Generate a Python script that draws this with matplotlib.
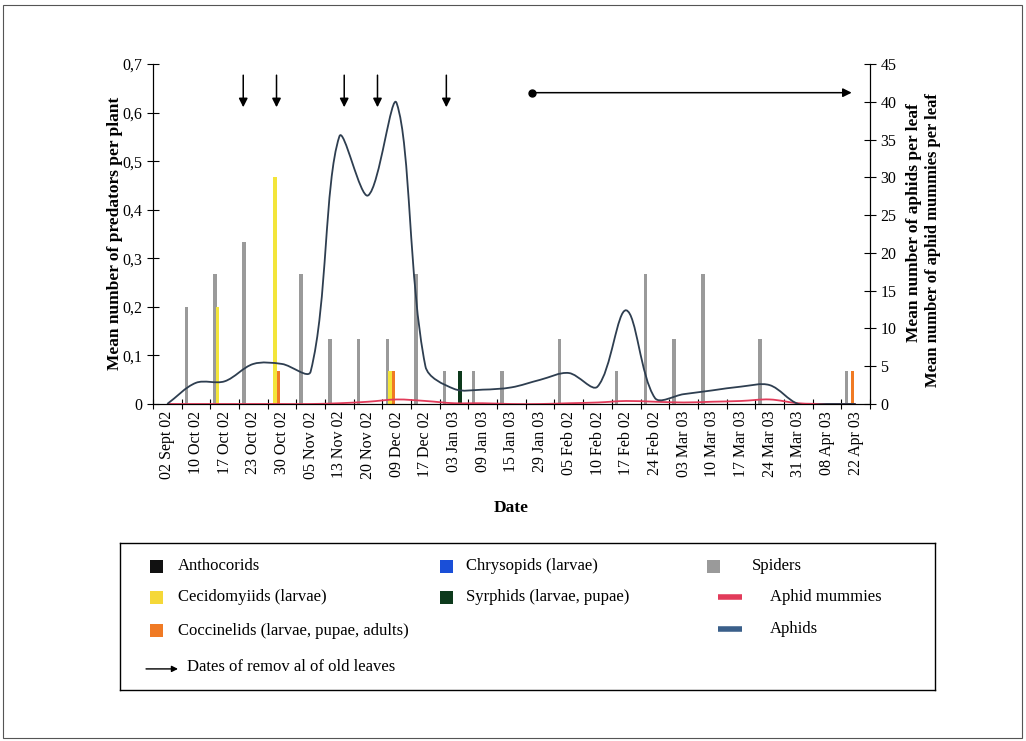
import numpy as np
import matplotlib
matplotlib.use("Agg")
import matplotlib.pyplot as plt
from matplotlib.path import Path
from matplotlib.patches import PathPatch, Rectangle

plt.rcParams['font.family'] = ['Liberation Serif', 'DejaVu Serif']

# sampling dates (categories)
dates = ['02 Sept 02', '10 Oct 02', '17 Oct 02', '23 Oct 02', '30 Oct 02',
         '05 Nov 02', '13 Nov 02', '20 Nov 02', '09 Dec 02', '17 Dec 02',
         '03 Jan 03', '09 Jan 03', '15 Jan 03', '29 Jan 03', '05 Feb 02',
         '10 Feb 02', '17 Feb 02', '24 Feb 02', '03 Mar 03', '10 Mar 03',
         '17 Mar 03', '24 Mar 03', '31 Mar 03', '08 Apr 03', '22 Apr 03']

# predators per plant (left axis)
spiders = [0, 0.2, 0.267, 0.333, 0, 0.267, 0.133, 0.133, 0.133, 0.267,
           0.067, 0.067, 0.067, 0, 0.133, 0, 0.067, 0.267, 0.133, 0.267,
           0, 0.133, 0, 0, 0.067]
cecidomyiids = [0, 0, 0.2, 0, 0.467, 0, 0, 0, 0.067, 0,
                0, 0, 0, 0, 0, 0, 0, 0, 0, 0,
                0, 0, 0, 0, 0]
coccinelids = [0, 0, 0, 0, 0.067, 0, 0, 0, 0.067, 0,
               0, 0, 0, 0, 0, 0, 0, 0, 0, 0,
               0, 0, 0, 0, 0.067]
anthocorids = [0] * 25
chrysopids = [0] * 25
syrphids = [0, 0, 0, 0, 0, 0, 0, 0, 0, 0,
            0.067, 0, 0, 0, 0, 0, 0, 0, 0, 0,
            0, 0, 0, 0, 0]

# per leaf (right axis)
aphids = [0, 2.8, 3.0, 5.3, 5.3, 4.3, 35.4, 27.6, 39.8, 5.0,
          2.0, 1.9, 2.2, 3.2, 4.1, 2.3, 12.4, 0.8, 1.3, 1.8,
          2.3, 2.5, 0, 0, 0]
mummies = [0, 0, 0, 0, 0, 0, 0.1, 0.3, 0.6, 0.4,
           0.1, 0.1, 0, 0, 0.1, 0.2, 0.4, 0.3, 0.2, 0.3,
           0.4, 0.6, 0.1, 0, 0]

# dates of removal of old leaves (x positions on category axis)
removals = [2.65, 3.81, 6.17, 7.33, 9.73]


def smooth_path(x, y, sx=28.7, sy=7.56):
    # smoothed line, Bezier handles scaled by neighbouring segment lengths
    pts = np.column_stack([x, y]).astype(float)
    n = len(pts)
    scale = np.array([sx, sy])

    def seglen(a, b):
        return np.hypot(*((pts[b] - pts[a]) * scale))

    verts = [pts[0]]
    codes = [Path.MOVETO]
    for i in range(n - 1):
        p1, p2 = pts[i], pts[i + 1]
        d12 = seglen(i, i + 1)
        if i > 0:
            d01 = seglen(i - 1, i)
            t1 = pts[i + 1] - pts[i - 1]
            c1 = p1 + t1 * d12 / (d01 + d12) / 3.0
        else:
            c1 = p1 + (p2 - p1) / 3.0
        if i + 2 < n:
            d23 = seglen(i + 1, i + 2)
            t2 = pts[i + 2] - pts[i]
            c2 = p2 - t2 * d12 / (d12 + d23) / 3.0
        else:
            c2 = p2 - (p2 - p1) / 3.0
        verts += [c1, c2, p2]
        codes += [Path.CURVE4] * 3
    return Path(verts, codes)


fig = plt.figure(figsize=(10.26, 7.41), dpi=100)
ax = fig.add_axes([0.149, 0.4548, 0.699, 0.4588])
ax2 = ax.twinx()

x = np.arange(len(dates))
w = 0.12
series = [
    (spiders, '#9a9a9a', -0.33),
    (cecidomyiids, '#f3e53a', -0.24),
    (coccinelids, '#f07a24', -0.12),
    (anthocorids, '#111111', 0.0),
    (chrysopids, '#1a4fd8', 0.1),
    (syrphids, '#0d3a1c', 0.21),
]
for vals, col, off in series:
    ax.bar(x + off, vals, width=w, color=col, linewidth=0)

ax.set_xlim(-0.5, len(dates) - 0.5)
ax.set_ylim(0, 0.7)
ax.set_yticks(np.arange(0, 0.71, 0.1))
ax.set_yticklabels(['0' if i == 0 else '0,%d' % i for i in range(8)])
ax.set_xticks(np.arange(-0.5, len(dates), 1))
ax.set_xticklabels([])
ax.set_xticks(x, minor=True)
ax.set_xticklabels(dates, minor=True, rotation=90)
ax.tick_params(axis='x', which='minor', length=0, pad=5, labelsize=11.5)
ax.tick_params(axis='x', which='major', direction='inout', length=7, width=0.8)
ax.tick_params(axis='y', direction='inout', length=8, width=0.8, labelsize=11.5)
ax.spines['top'].set_visible(False)
ax.set_xlabel('Date', fontsize=12.5, fontweight='bold', labelpad=15)

ax2.set_ylim(0, 45)
ax2.set_yticks(np.arange(0, 46, 5))
ax2.tick_params(axis='y', direction='inout', length=8, width=0.8, labelsize=11.5)
ax2.spines['top'].set_visible(False)

ax2.add_patch(PathPatch(smooth_path(x, mummies), fill=False, edgecolor='#e23b5a', lw=1.3))
ax2.add_patch(PathPatch(smooth_path(x, aphids), fill=False, edgecolor='#2e3e50', lw=1.3))

for r in removals:
    ax.annotate('', xy=(r, 0.611), xytext=(r, 0.677),
                arrowprops=dict(arrowstyle='-|>', color='black', lw=1.1,
                                mutation_scale=13, shrinkA=0, shrinkB=0))
ax.annotate('', xy=(23.86, 0.641), xytext=(12.70, 0.641),
            arrowprops=dict(arrowstyle='-|>', color='black', lw=1.1,
                            mutation_scale=13, shrinkA=0, shrinkB=0))
ax.plot([12.70], [0.641], 'o', color='black', ms=5)

fig.text(0.112, 0.685, 'Mean number of predators per plant', rotation=90,
         ha='center', va='center', fontsize=12.5, fontweight='bold')
fig.text(0.891, 0.70, 'Mean number of aphids per leaf', rotation=90,
         ha='center', va='center', fontsize=12.5, fontweight='bold')
fig.text(0.909, 0.676, 'Mean number of aphid mummies per leaf', rotation=90,
         ha='center', va='center', fontsize=12, fontweight='bold')

# legend box
lax = fig.add_axes([0.117, 0.069, 0.794, 0.198])
lax.set_xlim(0, 815)
lax.set_ylim(147, 0)
lax.set_xticks([])
lax.set_yticks([])
for s in lax.spines.values():
    s.set_linewidth(1.0)

sq = 13
legend_boxes = [
    ('Anthocorids', '#111111', 30, 23, 58),
    ('Cecidomyiids (larvae)', '#f5d838', 30, 54, 58),
    ('Coccinelids (larvae, pupae, adults)', '#f07a24', 30, 88, 58),
    ('Chrysopids (larvae)', '#1a4fd8', 320, 23, 346),
    ('Syrphids (larvae, pupae)', '#0d3a1c', 320, 54, 346),
    ('Spiders', '#9a9a9a', 587, 23, 632),
]
for label, col, bx, by, tx in legend_boxes:
    lax.add_patch(Rectangle((bx, by - sq / 2), sq, sq, color=col, lw=0))
    lax.text(tx, by, label, va='center', ha='left', fontsize=12)

legend_lines = [
    ('Aphid mummies', '#e23b5a', 54),
    ('Aphids', '#3a5f8a', 86),
]
for label, col, ly in legend_lines:
    lax.plot([598, 622], [ly, ly], color=col, lw=4, solid_capstyle='butt')
    lax.text(650, ly, label, va='center', ha='left', fontsize=12)

lax.annotate('', xy=(58, 126), xytext=(26, 126),
             arrowprops=dict(arrowstyle='-|>', color='black', lw=1.0,
                             mutation_scale=9, shrinkA=0, shrinkB=0))
lax.text(67, 124, 'Dates of remov al of old leaves', va='center', ha='left', fontsize=12)

# outer frame
fig.patches.append(Rectangle((0.003, 0.004), 0.993, 0.989, transform=fig.transFigure,
                             fill=False, edgecolor='#555555', lw=0.8))

fig.savefig('out.png', dpi=100)
